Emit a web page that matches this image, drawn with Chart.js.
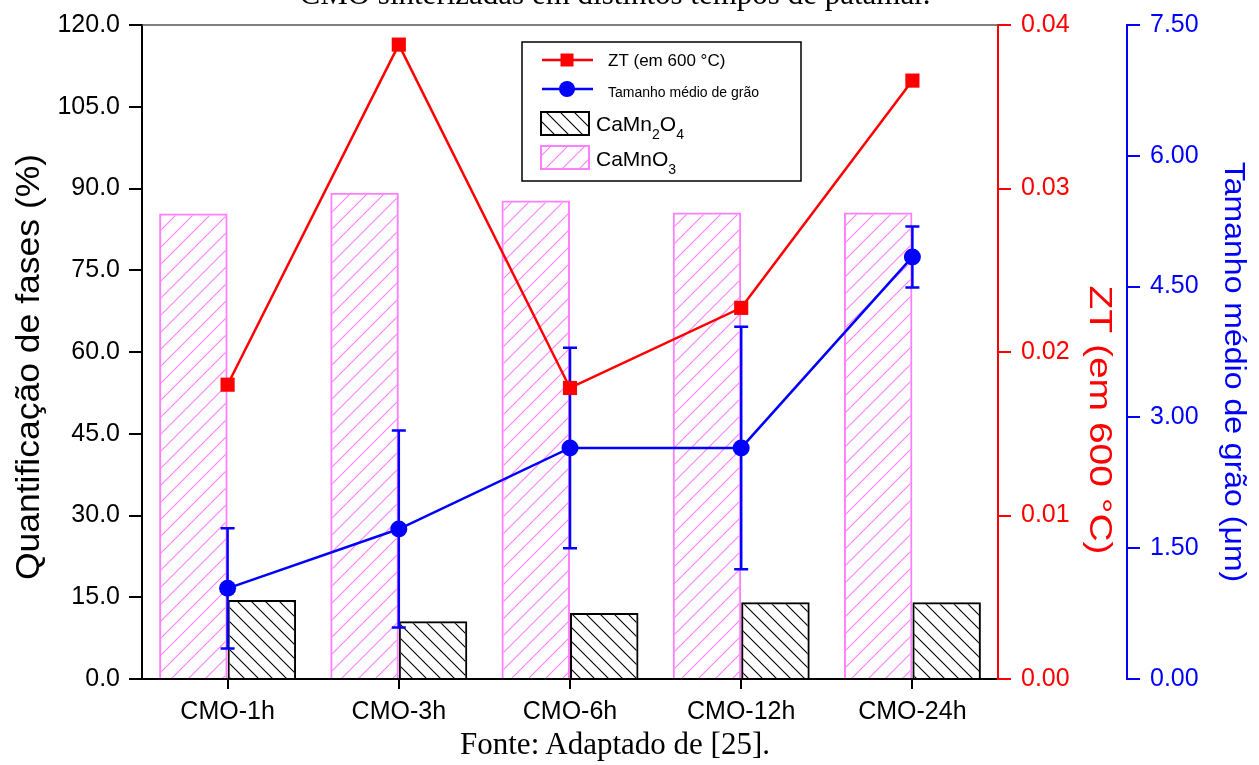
<!DOCTYPE html>
<html>
<head>
<meta charset="utf-8">
<script src="https://cdn.jsdelivr.net/npm/chart.js@4.4.0/dist/chart.umd.min.js"></script>
<style>
  html, body { margin: 0; padding: 0; background: #fff; overflow: hidden; }
  #wrap { position: relative; width: 1259px; height: 765px; }
  #c { position: absolute; left: 0; top: 0; }
  .cap { position: absolute; left: 0; width: 1230px; text-align: center;
         font-family: 'Liberation Serif', 'Times New Roman', serif;
         font-size: 31px; line-height: 31px; color: #000; white-space: nowrap; }
</style>
</head>
<body>
<div id="wrap">
  <canvas id="c" width="1259" height="765"></canvas>
  <div class="cap" style="top:-22px">CMO sinterizadas em distintos tempos de patamar.</div>
  <div class="cap" style="top:728px">Fonte: Adaptado de [25].</div>
</div>
<script>
// Samples (sintering dwell time)
const categories = ['CMO-1h', 'CMO-3h', 'CMO-6h', 'CMO-12h', 'CMO-24h'];

// Phase quantification (%)
const camno3 = [85.4, 89.2, 87.8, 85.6, 85.6];
const camn2o4 = [14.5, 10.6, 12.1, 14.1, 14.1];

// Figure of merit ZT at 600 °C
const zt = [0.0180, 0.0388, 0.0178, 0.0227, 0.0366];

// Mean grain size (µm) and its standard deviation
const grain = [1.04, 1.72, 2.65, 2.65, 4.84];
const grainErr = [0.69, 1.13, 1.15, 1.39, 0.35];

// Axis tick values
const phaseTicks = [0, 15, 30, 45, 60, 75, 90, 105, 120];
const ztTicks = [0, 0.01, 0.02, 0.03, 0.04];
const grainTicks = [0, 1.5, 3, 4.5, 6, 7.5];

const FONT = "'Liberation Sans', Arial, sans-serif";
const PINK = '#ff7fff';
const RED = '#ff0000';
const BLUE = '#0000ff';

function hatch(size, color, width, rising) {
  const c = document.createElement('canvas');
  c.width = size; c.height = size;
  const g = c.getContext('2d');
  g.strokeStyle = color;
  g.lineWidth = width;
  g.beginPath();
  if (rising) {
    g.moveTo(-1, size + 1); g.lineTo(size + 1, -1);
    g.moveTo(-size / 2, size / 2); g.lineTo(size / 2, -size / 2);
    g.moveTo(size / 2, size * 1.5); g.lineTo(size * 1.5, size / 2);
  } else {
    g.moveTo(-1, -1); g.lineTo(size + 1, size + 1);
    g.moveTo(-size / 2, size / 2); g.lineTo(size / 2, size * 1.5);
    g.moveTo(size / 2, -size / 2); g.lineTo(size * 1.5, size / 2);
  }
  g.stroke();
  return g.createPattern(c, 'repeat');
}
const pinkHatch = hatch(17, PINK, 1.1, true);
const blackHatch = hatch(14, '#000', 1.1, false);

// Vertical error bars for the grain-size series
const errorBars = {
  id: 'errorBars',
  afterDatasetDraw(chart, args) {
    const ds = chart.data.datasets[args.index];
    if (!ds.errors) return;
    const ys = chart.scales[ds.yAxisID];
    const ctx = chart.ctx;
    ctx.save();
    ctx.strokeStyle = ds.borderColor;
    ctx.lineWidth = 2.5;
    args.meta.data.forEach((pt, i) => {
      const v = ds.data[i], e = ds.errors[i];
      const yt = ys.getPixelForValue(v + e), yb = ys.getPixelForValue(v - e);
      ctx.beginPath();
      ctx.moveTo(pt.x, yt); ctx.lineTo(pt.x, yb);
      ctx.moveTo(pt.x - 7, yt); ctx.lineTo(pt.x + 7, yt);
      ctx.moveTo(pt.x - 7, yb); ctx.lineTo(pt.x + 7, yb);
      ctx.stroke();
    });
    ctx.restore();
  }
};

// Thin frame line along the top of the plot area
const topFrame = {
  id: 'topFrame',
  afterDraw(chart) {
    const { ctx, chartArea: a } = chart;
    ctx.save();
    ctx.strokeStyle = '#555';
    ctx.lineWidth = 1.5;
    ctx.beginPath();
    ctx.moveTo(a.left, a.top); ctx.lineTo(a.right, a.top);
    ctx.stroke();
    ctx.restore();
  }
};

// Rotated axis titles (narrow lettering, shifted along the axis)
const axisTitles = {
  id: 'axisTitles',
  afterDraw(chart) {
    const { ctx, chartArea: a } = chart;
    const mid = (a.top + a.bottom) / 2;
    const specs = [
      { id: 'y', x: chart.scales.y.left + 30, dy: 15, rot: -Math.PI / 2, size: 35.5, squeeze: 0.95 },
      { id: 'yZT', x: chart.scales.yZT.right - 28, dy: 68, rot: Math.PI / 2, size: 39, squeeze: 0.8 },
      { id: 'yGrain', x: chart.scales.yGrain.right - 26, dy: 20, rot: Math.PI / 2, size: 32, squeeze: 0.9 }
    ];
    specs.forEach(s => {
      const t = chart.scales[s.id].options.title;
      ctx.save();
      ctx.translate(s.x, mid + s.dy);
      ctx.rotate(s.rot);
      ctx.scale(1, s.squeeze);
      ctx.font = s.size + 'px ' + FONT;
      ctx.fillStyle = t.color;
      ctx.textAlign = 'center';
      ctx.textBaseline = 'middle';
      ctx.fillText(t.text, 0, 0);
      ctx.restore();
    });
  }
};

// Boxed legend inside the plot area
function drawChem(ctx, text, x, y, big, small) {
  let cx = x;
  for (const ch of text) {
    const sub = /[0-9]/.test(ch);
    ctx.font = (sub ? small : big) + 'px ' + FONT;
    ctx.fillText(ch, cx, sub ? y + 8 : y);
    cx += ctx.measureText(ch).width;
  }
}
const boxLegend = {
  id: 'boxLegend',
  afterDraw(chart) {
    const { ctx, chartArea: a } = chart;
    const ds = chart.data.datasets;
    const x0 = a.left + 380, y0 = a.top + 17;
    ctx.save();
    ctx.fillStyle = '#fff';
    ctx.fillRect(x0, y0, 279, 139);
    ctx.strokeStyle = '#000';
    ctx.lineWidth = 1.5;
    ctx.strokeRect(x0, y0, 279, 139);
    ctx.textBaseline = 'alphabetic';
    ctx.fillStyle = '#000';

    // ZT line + square
    const zd = ds[0];
    ctx.strokeStyle = zd.borderColor; ctx.lineWidth = 2.5;
    ctx.beginPath(); ctx.moveTo(x0 + 20, y0 + 18); ctx.lineTo(x0 + 71, y0 + 18); ctx.stroke();
    ctx.fillStyle = zd.backgroundColor;
    ctx.fillRect(x0 + 45 - 6.5, y0 + 18 - 6.5, 13, 13);
    ctx.fillStyle = '#000';
    ctx.font = '17px ' + FONT;
    ctx.fillText(zd.label, x0 + 86, y0 + 24);

    // grain line + circle
    const gd = ds[1];
    ctx.strokeStyle = gd.borderColor;
    ctx.beginPath(); ctx.moveTo(x0 + 20, y0 + 47); ctx.lineTo(x0 + 71, y0 + 47); ctx.stroke();
    ctx.fillStyle = gd.backgroundColor;
    ctx.beginPath(); ctx.arc(x0 + 45, y0 + 47, 8, 0, Math.PI * 2); ctx.fill();
    ctx.fillStyle = '#000';
    ctx.font = '14px ' + FONT;
    ctx.fillText(gd.label, x0 + 86, y0 + 55);

    // phase swatches
    const pink = ds[2], black = ds[3];
    [[black, 70, 89], [pink, 104, 124]].forEach(([d, sy, ty]) => {
      ctx.fillStyle = d.backgroundColor;
      ctx.fillRect(x0 + 19, y0 + sy, 48, 23);
      ctx.strokeStyle = d.borderColor; ctx.lineWidth = 2;
      ctx.strokeRect(x0 + 19, y0 + sy, 48, 23);
      ctx.fillStyle = '#000';
      drawChem(ctx, d.label, x0 + 74, y0 + ty, 21, 14);
    });
    ctx.restore();
  }
};

function fixed(n) { return v => Number(v).toFixed(n); }

new Chart(document.getElementById('c'), {
  type: 'bar',
  data: {
    labels: categories,
    datasets: [
      {
        type: 'line', label: 'ZT (em 600 °C)', data: zt, yAxisID: 'yZT', order: 0,
        borderColor: RED, backgroundColor: RED, borderWidth: 2.5,
        pointStyle: 'rect', pointRadius: 10, pointBorderWidth: 0, tension: 0
      },
      {
        type: 'line', label: 'Tamanho médio de grão', data: grain, errors: grainErr,
        yAxisID: 'yGrain', order: 1,
        borderColor: BLUE, backgroundColor: BLUE, borderWidth: 2.5,
        pointStyle: 'circle', pointRadius: 8.5, pointBorderWidth: 0, tension: 0
      },
      {
        label: 'CaMnO3', data: camno3, yAxisID: 'y', order: 2,
        backgroundColor: pinkHatch, borderColor: PINK, borderWidth: 2,
        borderSkipped: 'bottom', categoryPercentage: 0.8, barPercentage: 1.0
      },
      {
        label: 'CaMn2O4', data: camn2o4, yAxisID: 'y', order: 3,
        backgroundColor: blackHatch, borderColor: '#000', borderWidth: 2,
        borderSkipped: 'bottom', categoryPercentage: 0.8, barPercentage: 1.0
      }
    ]
  },
  options: {
    responsive: false,
    animation: false,
    layout: { padding: { top: 24, left: 0, right: 0, bottom: 0 } },
    plugins: { legend: { display: false }, tooltip: { enabled: false } },
    scales: {
      x: {
        position: 'bottom',
        afterFit(s) { s.height = 86; },
        grid: { offset: false, drawOnChartArea: false, drawTicks: true, tickLength: 10, color: '#000', lineWidth: 2 },
        border: { color: '#000', width: 2 },
        ticks: { color: '#000', font: { family: FONT, size: 25 }, padding: 8, maxRotation: 0 }
      },
      y: {
        position: 'left', min: 0, max: 120,
        afterFit(s) { s.width = 142; },
        afterBuildTicks(s) { s.ticks = phaseTicks.map(v => ({ value: v })); },
        grid: { drawOnChartArea: false, drawTicks: true, tickLength: 13, color: '#000', lineWidth: 2 },
        border: { color: '#000', width: 2 },
        ticks: { color: '#000', font: { family: FONT, size: 25 }, padding: 9, callback: fixed(1) },
        title: { display: false, text: 'Quantificação de fases (%)', color: '#000' }
      },
      yZT: {
        position: 'right', weight: 0, min: 0, max: 0.04,
        afterFit(s) { s.width = 129; },
        afterBuildTicks(s) { s.ticks = ztTicks.map(v => ({ value: v })); },
        grid: { drawOnChartArea: false, drawTicks: true, tickLength: 13, color: RED, lineWidth: 2 },
        border: { color: RED, width: 2 },
        ticks: { color: RED, font: { family: FONT, size: 25 }, padding: 10, callback: fixed(2) },
        title: { display: false, text: 'ZT (em 600 °C)', color: RED }
      },
      yGrain: {
        position: 'right', weight: 1, min: 0, max: 7.5,
        afterFit(s) { s.width = 132; },
        afterBuildTicks(s) { s.ticks = grainTicks.map(v => ({ value: v })); },
        grid: { drawOnChartArea: false, drawTicks: true, tickLength: 13, color: BLUE, lineWidth: 2 },
        border: { color: BLUE, width: 2 },
        ticks: { color: BLUE, font: { family: FONT, size: 25 }, padding: 10, callback: fixed(2) },
        title: { display: false, text: 'Tamanho médio de grão (μm)', color: BLUE }
      }
    }
  },
  plugins: [errorBars, topFrame, axisTitles, boxLegend]
});
</script>
</body>
</html>
